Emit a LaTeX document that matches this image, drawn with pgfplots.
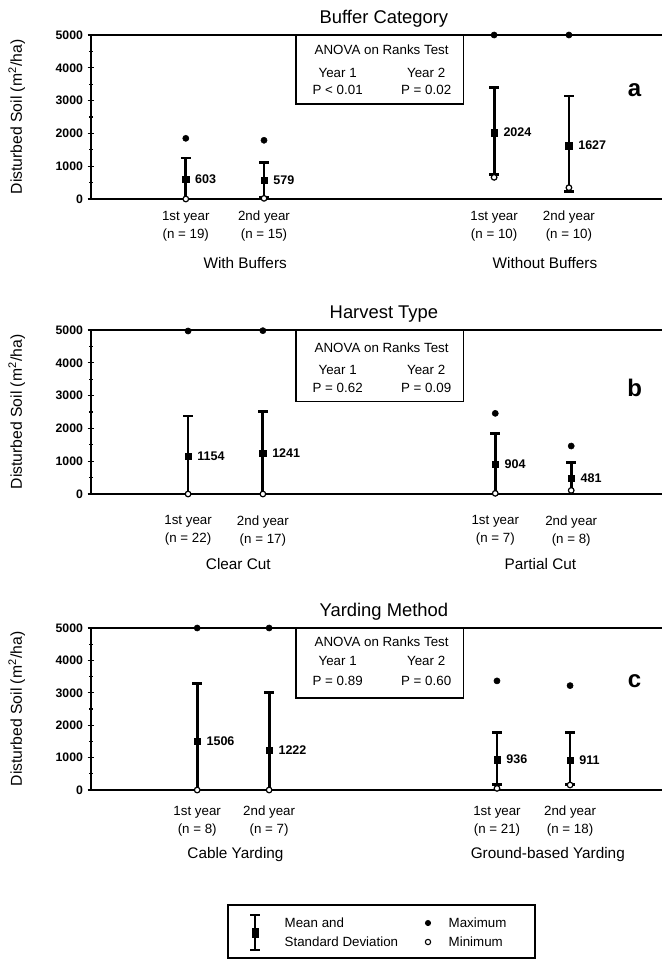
\documentclass[border=0pt]{standalone}
\usepackage{fontspec}
\setmainfont{Liberation Sans}
\usepackage{pgfplots}
\pgfplotsset{compat=1.18}

% 1 px of the reference = 0.75pt
\pgfplotsset{
  panel/.style={
    scale only axis, width=428.25pt, height=123pt,
    xmin=0, xmax=10, ymin=0, ymax=5000,
    axis x line*=bottom, axis y line*=left,
    axis line style={-, line width=1.1pt},
    ytick={0,1000,...,5000}, minor y tick num=1,
    tick align=center, major tick length=5pt, minor tick length=2.5pt,
    tick style={line width=0.9pt, black},
    x tick style={draw=none},
    yticklabel style={font=\bfseries\fontsize{9.2}{11}\selectfont},
    xticklabel style={align=center, font=\fontsize{10}{13.5}\selectfont},
    /pgf/number format/1000 sep={},
    /pgf/number format/assume math mode=true,
    clip=false,
    ylabel={Disturbed Soil (m\textsuperscript{2}/ha)},
    ylabel style={font=\fontsize{11.8}{13}\selectfont,
      at={(axis description cs:-0.130,0.5)}, anchor=center},
    title style={font=\fontsize{13.8}{16}\selectfont,
      at={(axis description cs:0.513,1)}, yshift=-3.5pt},
  },
  sdbar/.style={
    only marks, mark=square*, mark size=2.4pt, black,
    error bars/y dir=both, error bars/y explicit,
    error bars/error bar style={line width=2.1pt, black},
    error bars/error mark options={rotate=90, line width=2.2pt, mark size=3.6pt, black},
    nodes near coords,
    nodes near coords style={anchor=west, xshift=3.5pt, font=\bfseries\fontsize{9.4}{11}\selectfont},
  },
  maxpt/.style={only marks, mark=*, mark size=2.3pt, black},
  minpt/.style={only marks, mark=*, mark size=2.1pt,
    mark options={fill=white, draw=black, line width=0.9pt}},
}
\newcommand\anova[7]{%
  \draw[line width=0.9pt] (axis cs:3.59,#1) rectangle (axis cs:6.53,5000);
  \node[font=\fontsize{10}{12}\selectfont] at (axis cs:5.09,#2) {ANOVA on Ranks Test};
  \node[font=\fontsize{10}{12}\selectfont] at (axis cs:4.32,#3) {Year 1};
  \node[font=\fontsize{10}{12}\selectfont] at (axis cs:5.87,#3) {Year 2};
  \node[font=\fontsize{10}{12}\selectfont] at (axis cs:4.32,#4) {#5};
  \node[font=\fontsize{10}{12}\selectfont] at (axis cs:5.87,#4) {#6};
  \node[font=\bfseries\fontsize{18}{20}\selectfont] at (axis cs:9.52,#4) {#7};
}

\begin{document}
\begin{tikzpicture}
\path[use as bounding box] (0,0) rectangle (496.5pt,-719.25pt);

% ---------- a: Buffer Category ----------
\begin{axis}[panel, at={(68.25pt,-149.25pt)}, anchor=south west,
  title={Buffer Category},
  xtick={1.66,3.03,7.06,8.37},
  xticklabels={{1st year\\(n = 19)},{2nd year\\(n = 15)},{1st year\\(n = 10)},{2nd year\\(n = 10)}},
  xticklabel style={yshift=-3pt},
]
\addplot[sdbar] coordinates {
  (1.66,603)  += (0,647)  -= (0,603)
  (3.03,579)  += (0,528)  -= (0,528)
  (7.06,2024) += (0,1366) -= (0,1284)
  (8.37,1627) += (0,1513) -= (0,1397)
};
\addplot[maxpt] coordinates {(1.66,1850) (3.03,1790) (7.06,5000) (8.37,5000)};
\addplot[minpt] coordinates {(1.66,0) (3.03,20) (7.06,660) (8.37,345)};
\draw[line width=1.1pt] (rel axis cs:0,1) -- (rel axis cs:1,1);
\anova{2896}{4543}{3841}{3320}{P < 0.01}{P = 0.02}{a}
\node[font=\fontsize{11.5}{13}\selectfont] at (axis cs:2.70,0) [yshift=-48pt] {With Buffers};
\node[font=\fontsize{11.5}{13}\selectfont] at (axis cs:7.95,0) [yshift=-48pt] {Without Buffers};
\end{axis}

% ---------- b: Harvest Type ----------
\begin{axis}[panel, at={(68.25pt,-370.5pt)}, anchor=south west,
  title={Harvest Type},
  xtick={1.70,3.01,7.08,8.41},
  xticklabels={{1st year\\(n = 22)},{2nd year\\(n = 17)},{1st year\\(n = 7)},{2nd year\\(n = 8)}},
  xticklabel style={yshift=-10pt},
]
\addplot[sdbar] coordinates {
  (1.70,1154) += (0,1224) -= (0,1154)
  (3.01,1241) += (0,1279) -= (0,1241)
  (7.08,904)  += (0,946)  -= (0,904)
  (8.41,481)  += (0,484)  -= (0,481)
};
\addplot[maxpt] coordinates {(1.70,4970) (3.01,4980) (7.08,2459) (8.41,1463)};
\addplot[minpt] coordinates {(1.70,0) (3.01,0) (7.08,20) (8.41,110)};
\draw[line width=1.1pt] (rel axis cs:0,1) -- (rel axis cs:1,1);
\anova{2827}{4455}{3788}{3242}{P = 0.62}{P = 0.09}{b}
\node[font=\fontsize{11.5}{13}\selectfont] at (axis cs:2.58,0) [yshift=-52.5pt] {Clear Cut};
\node[font=\fontsize{11.5}{13}\selectfont] at (axis cs:7.87,0) [yshift=-52.5pt] {Partial Cut};
\end{axis}

% ---------- c: Yarding Method ----------
\begin{axis}[panel, at={(68.25pt,-592.5pt)}, anchor=south west, height=121.5pt,
  title={Yarding Method},
  xtick={1.86,3.12,7.11,8.39},
  xticklabels={{1st year\\(n = 8)},{2nd year\\(n = 7)},{1st year\\(n = 21)},{2nd year\\(n = 18)}},
  xticklabel style={yshift=-6pt},
]
\addplot[sdbar] coordinates {
  (1.86,1506) += (0,1779) -= (0,1506)
  (3.12,1222) += (0,1793) -= (0,1222)
  (7.11,936)  += (0,842)  -= (0,759)
  (8.39,911)  += (0,856)  -= (0,734)
};
\addplot[maxpt] coordinates {(1.86,5000) (3.12,5000) (7.11,3368) (8.39,3222)};
\addplot[minpt] coordinates {(1.86,0) (3.12,0) (7.11,50) (8.39,155)};
\draw[line width=1.1pt] (rel axis cs:0,1) -- (rel axis cs:1,1);
\anova{2840}{4574}{3980}{3364}{P = 0.89}{P = 0.60}{c}
\node[font=\fontsize{11.5}{13}\selectfont] at (axis cs:2.53,0) [yshift=-48.75pt] {Cable Yarding};
\node[font=\fontsize{11.5}{13}\selectfont] at (axis cs:8.00,0) [yshift=-48.75pt] {Ground-based Yarding};
\end{axis}

% ---------- legend box ----------
\begin{scope}[x=0.75pt, y=-0.75pt, font=\fontsize{10}{12}\selectfont]
\draw[line width=0.8pt] (228,905) rectangle (535,958);
\draw[line width=1.6pt] (255,915) -- (255,950);
\draw[line width=1.6pt] (250,915) -- (260,915);
\draw[line width=1.6pt] (250,950) -- (260,950);
\fill (251.5,927.5) rectangle (258.5,937.5);
\node[anchor=west] at (280,923) {Mean and};
\node[anchor=west] at (280,942) {Standard Deviation};
\fill (428,923) circle[radius=2.3pt];
\draw[fill=white, line width=0.8pt] (428,942) circle[radius=2pt];
\node[anchor=west] at (444,923) {Maximum};
\node[anchor=west] at (444,942) {Minimum};
\end{scope}
\end{tikzpicture}
\end{document}
